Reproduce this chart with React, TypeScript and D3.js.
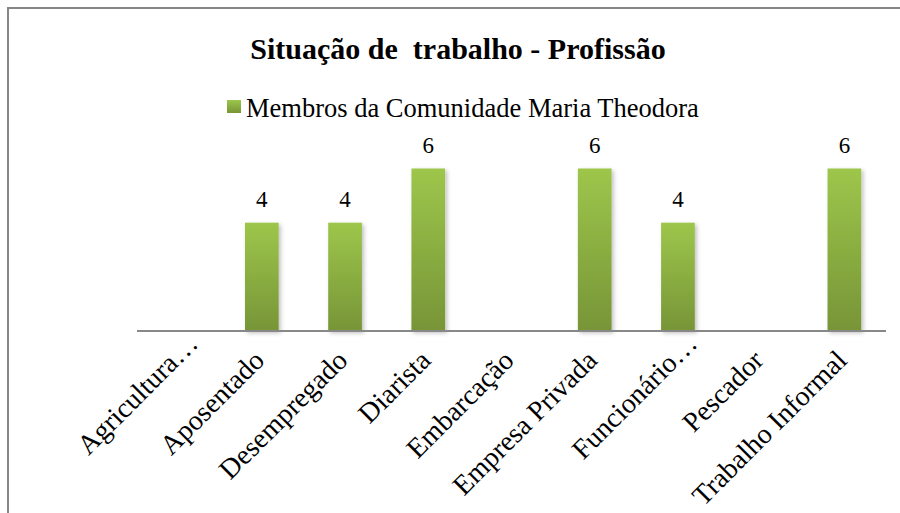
import * as d3 from 'd3';
import React, { useRef, useEffect } from 'react';

const categories = [
  'Agricultura…',
  'Aposentado',
  'Desempregado',
  'Diarista',
  'Embarcação',
  'Empresa Privada',
  'Funcionário…',
  'Pescador',
  'Trabalho Informal',
];
const values: (number | null)[] = [null, 4, 4, 6, null, 6, 4, null, 6];
const seriesName = 'Membros da Comunidade Maria Theodora';
const title = 'Situação de\u00a0 trabalho - Profissão';

function Chart() {
  const svgRef = useRef<SVGSVGElement | null>(null);

  useEffect(() => {
    const svg = d3.select(svgRef.current);
    svg.selectAll('*').remove();
    const font = "'Liberation Serif', 'Times New Roman', serif";

    // gradient + shadow for bars
    const defs = svg.append('defs');
    const grad = defs
      .append('linearGradient')
      .attr('id', 'barGrad')
      .attr('x1', 0)
      .attr('y1', 0)
      .attr('x2', 0)
      .attr('y2', 1);
    grad.append('stop').attr('offset', '0%').attr('stop-color', '#9dc64b');
    grad.append('stop').attr('offset', '100%').attr('stop-color', '#779537');
    const shadow = defs
      .append('filter')
      .attr('id', 'barShadow')
      .attr('x', '-30%')
      .attr('y', '-10%')
      .attr('width', '160%')
      .attr('height', '130%');
    shadow
      .append('feDropShadow')
      .attr('dx', 2)
      .attr('dy', 2)
      .attr('stdDeviation', 2)
      .attr('flood-color', '#000')
      .attr('flood-opacity', 0.25);

    // frame
    svg
      .append('rect')
      .attr('x', 8)
      .attr('y', 8)
      .attr('width', 910)
      .attr('height', 520)
      .attr('fill', 'white')
      .attr('stroke', '#868686')
      .attr('stroke-width', 2);

    // title
    svg
      .append('text')
      .attr('x', 458)
      .attr('y', 59)
      .attr('text-anchor', 'middle')
      .attr('font-family', font)
      .attr('font-weight', 'bold')
      .attr('font-size', 30)
      .attr('fill', '#000')
      .text(title);

    // legend
    svg
      .append('rect')
      .attr('x', 227)
      .attr('y', 100)
      .attr('width', 14)
      .attr('height', 13)
      .attr('fill', 'url(#barGrad)');
    svg
      .append('text')
      .attr('x', 246)
      .attr('y', 117)
      .attr('font-family', font)
      .attr('font-size', 26.5)
      .attr('fill', '#000')
      .text(seriesName);

    // scales
    const x = d3
      .scaleBand()
      .domain(categories)
      .range([137, 886])
      .paddingInner(0.595)
      .paddingOuter(0.2975);

    const y = d3.scaleLinear().domain([0, 6]).range([331, 168.5]);

    const data = categories.map((c, i) => ({ c, v: values[i] }));
    const withValue = data.filter((d) => d.v !== null);

    // bars
    svg
      .append('g')
      .selectAll('rect')
      .data(withValue)
      .enter()
      .append('rect')
      .attr('x', (d) => x(d.c)!)
      .attr('y', (d) => y(d.v as number))
      .attr('width', x.bandwidth())
      .attr('height', (d) => y(0) - y(d.v as number))
      .attr('fill', 'url(#barGrad)')
      .attr('filter', 'url(#barShadow)');

    // axis line
    svg
      .append('line')
      .attr('x1', x.range()[0])
      .attr('x2', x.range()[1])
      .attr('y1', y(0))
      .attr('y2', y(0))
      .attr('stroke', '#888')
      .attr('stroke-width', 2);

    // value labels
    svg
      .append('g')
      .selectAll('text')
      .data(withValue)
      .enter()
      .append('text')
      .attr('x', (d) => x(d.c)! + x.bandwidth() / 2)
      .attr('y', (d) => y(d.v as number) - 16)
      .attr('text-anchor', 'middle')
      .attr('font-family', font)
      .attr('font-size', 23)
      .attr('fill', '#000')
      .text((d) => String(d.v));

    // category labels (truncated ones sit a bit further out)
    svg
      .append('g')
      .selectAll('text')
      .data(categories)
      .enter()
      .append('text')
      .attr(
        'transform',
        (d) => 'translate(' + (x(d)! + x.bandwidth() / 2 + 4) + ',' + (y(0) + 31) + ') rotate(-45)'
      )
      .attr('text-anchor', 'end')
      .attr('dx', (d) => (d.endsWith('…') ? '0.85em' : 0))
      .attr('font-family', font)
      .attr('font-size', 28)
      .attr('fill', '#000')
      .text((d) => d);
  }, []);

  return <svg ref={svgRef} width={900} height={513} style={{ position: 'absolute', left: 0, top: 0 }}></svg>;
}

export default function App() {
  return <Chart />;
}
